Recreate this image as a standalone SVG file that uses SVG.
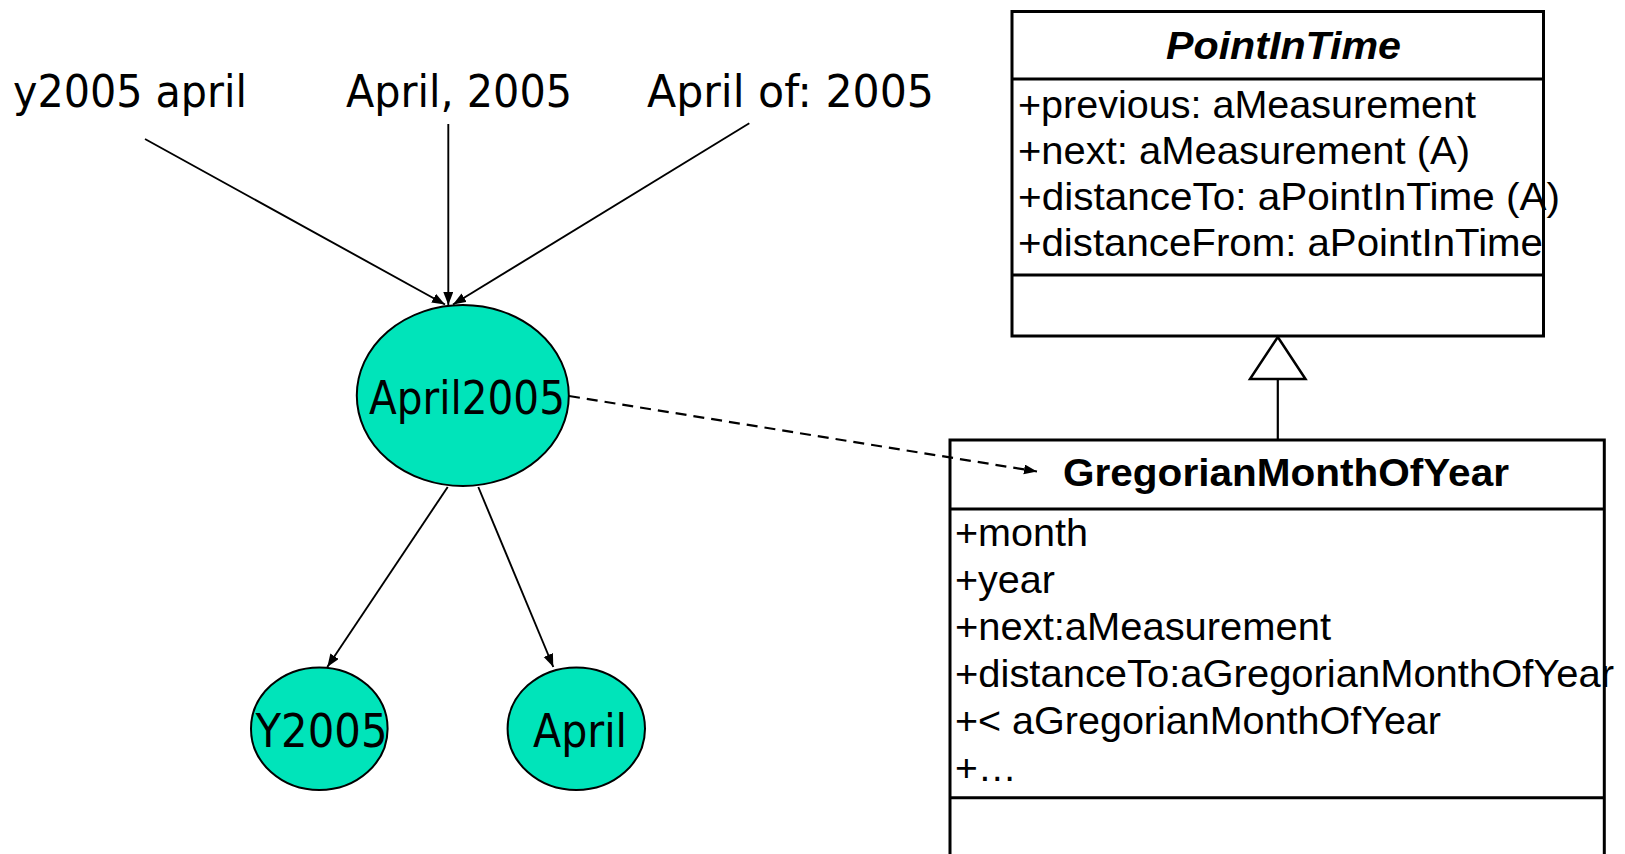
<svg xmlns="http://www.w3.org/2000/svg" width="1625" height="854" viewBox="0 0 1625 854">
  <style>
    .lbl { font-family: "DejaVu Sans Condensed", "DejaVu Sans", sans-serif; fill: #000; }
    .top { font-size: 44px; }
    .node-text { font-size: 47px; }
    .ell { fill: #00e4ba; stroke: #000; stroke-width: 2; }
    .uml { font-family: "Liberation Sans", Arial, sans-serif; fill: #000; }
    .attr { font-size: 39px; }
    .box { fill: #fff; stroke: #000; stroke-width: 3; }
    .div { stroke: #000; stroke-width: 3; }
    .edge { stroke: #000; stroke-width: 1.9; fill: none; }
    .dep { stroke-width: 2.2; stroke-dasharray: 11 7; }
  </style>
  <defs>
    <marker id="arrow" markerUnits="userSpaceOnUse" markerWidth="14" markerHeight="11" refX="13" refY="5" orient="auto">
      <path d="M0,0 L13,5 L0,10 z" fill="#000"/>
    </marker>
  </defs>

  <rect width="1625" height="854" fill="#fff"/>

  <!-- free-standing spellings -->
  <g id="label-y2005-april">
    <text class="lbl top" x="13" y="106.7" textLength="234" lengthAdjust="spacingAndGlyphs">y2005 april</text>
  </g>
  <g id="label-april-comma-2005">
    <text class="lbl top" x="346" y="106.7" textLength="226" lengthAdjust="spacingAndGlyphs">April, 2005</text>
  </g>
  <g id="label-april-of-2005">
    <text class="lbl top" x="647" y="106.7" textLength="287" lengthAdjust="spacingAndGlyphs">April of: 2005</text>
  </g>

  <!-- instance nodes -->
  <g id="node-april2005">
    <ellipse class="ell" cx="462.8" cy="395.5" rx="106" ry="90.5"/>
    <text class="lbl node-text" x="369" y="414" textLength="196" lengthAdjust="spacingAndGlyphs">April2005</text>
  </g>
  <g id="node-y2005">
    <ellipse class="ell" cx="319.3" cy="728.7" rx="68.3" ry="61.3"/>
    <text class="lbl node-text" x="255.5" y="746.7" textLength="132" lengthAdjust="spacingAndGlyphs">Y2005</text>
  </g>
  <g id="node-april">
    <ellipse class="ell" cx="576.3" cy="728.7" rx="68.7" ry="61.3"/>
    <text class="lbl node-text" x="533" y="746.7" textLength="94" lengthAdjust="spacingAndGlyphs">April</text>
  </g>

  <!-- class PointInTime -->
  <g id="class-point-in-time">
    <rect class="box" x="1012" y="11.5" width="531.5" height="324.5"/>
    <line class="div" x1="1012" y1="79" x2="1543.5" y2="79"/>
    <line class="div" x1="1012" y1="275" x2="1543.5" y2="275"/>
    <text class="uml" x="1166" y="59" font-size="38" font-weight="bold" font-style="italic" textLength="235" lengthAdjust="spacingAndGlyphs">PointInTime</text>
    <text class="uml attr" x="1018" y="118.3" textLength="458" lengthAdjust="spacingAndGlyphs">+previous: aMeasurement</text>
    <text class="uml attr" x="1018" y="164.3" textLength="452" lengthAdjust="spacingAndGlyphs">+next: aMeasurement (A)</text>
    <text class="uml attr" x="1018" y="210.3" textLength="542" lengthAdjust="spacingAndGlyphs">+distanceTo: aPointInTime (A)</text>
    <text class="uml attr" x="1018" y="256.3" textLength="525" lengthAdjust="spacingAndGlyphs">+distanceFrom: aPointInTime</text>
  </g>

  <!-- class GregorianMonthOfYear -->
  <g id="class-gregorian-month-of-year">
    <rect class="box" x="950" y="440" width="654.3" height="430"/>
    <line class="div" x1="950" y1="509" x2="1604.3" y2="509"/>
    <line class="div" x1="950" y1="797.7" x2="1604.3" y2="797.7"/>
    <text class="uml" x="1063" y="486" font-size="38.5" font-weight="bold" textLength="446" lengthAdjust="spacingAndGlyphs">GregorianMonthOfYear</text>
    <text class="uml attr" x="955" y="546" textLength="133" lengthAdjust="spacingAndGlyphs">+month</text>
    <text class="uml attr" x="955" y="593" textLength="100" lengthAdjust="spacingAndGlyphs">+year</text>
    <text class="uml attr" x="955" y="640" textLength="376" lengthAdjust="spacingAndGlyphs">+next:aMeasurement</text>
    <text class="uml attr" x="955" y="687" textLength="659" lengthAdjust="spacingAndGlyphs">+distanceTo:aGregorianMonthOfYear</text>
    <text class="uml attr" x="955" y="734" textLength="486" lengthAdjust="spacingAndGlyphs">+&lt; aGregorianMonthOfYear</text>
    <text class="uml attr" x="955" y="781">+…</text>
  </g>

  <!-- connectors -->
  <g id="connectors">
    <line class="edge" x1="145" y1="139" x2="445" y2="304.5" marker-end="url(#arrow)"/>
    <line class="edge" x1="448.3" y1="124" x2="448.3" y2="305" marker-end="url(#arrow)"/>
    <line class="edge" x1="749.3" y1="123.3" x2="453" y2="304.5" marker-end="url(#arrow)"/>
    <line class="edge" x1="447.7" y1="487" x2="327.3" y2="667" marker-end="url(#arrow)"/>
    <line class="edge" x1="478.3" y1="487" x2="553.3" y2="667" marker-end="url(#arrow)"/>
    <line class="edge dep" x1="569" y1="396" x2="1037" y2="471.5" marker-end="url(#arrow)"/>
    <!-- generalization -->
    <line x1="1277.8" y1="379" x2="1277.8" y2="440" stroke="#000" stroke-width="2.2"/>
    <path d="M1277.8,337 L1305.5,379 L1250,379 Z" fill="#fff" stroke="#000" stroke-width="2.5" stroke-linejoin="miter"/>
  </g>
</svg>
